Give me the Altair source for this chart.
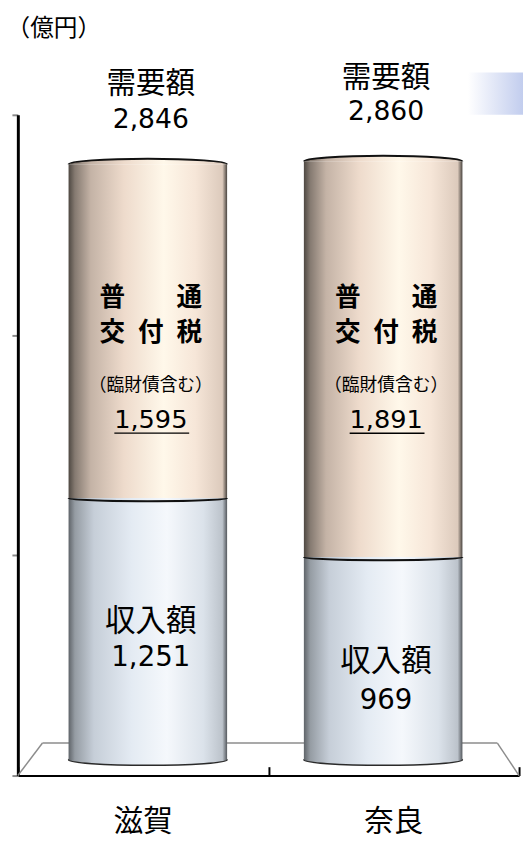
import altair as alt
import pandas as pd

# ---- data (億円) ----
categories = ["滋賀", "奈良"]
income = [1251, 969]        # 収入額
grant = [1595, 1891]        # 普通交付税（臨財債含む）
demand = [2846, 2860]       # 需要額
axis_ticks = [0, 1000, 2000, 3000]

df = pd.DataFrame({"pref": categories, "income": income, "grant": grant, "demand": demand})
one = pd.DataFrame({"k": [0]})

W, H = 509, 671
JP = "Noto Sans CJK JP"
NUM = "DejaVu Sans"
BAR_W = 161

bar_x = alt.Scale(type="band", domain=categories, paddingInner=0, paddingOuter=0.065, align=0.403)
axis_x = alt.Scale(type="band", domain=categories, paddingInner=0, paddingOuter=0)
bar_y = alt.Scale(domain=[-75.3, 3082.4], nice=False, zero=False)


def grad(stops):
    return alt.Gradient(gradient="linear", x1=0, x2=1, y1=0, y2=0,
                        stops=[alt.GradientStop(offset=o, color=c) for o, c in stops])


beige = grad([(0.0, "#4e4842"), (0.04, "#857a71"), (0.14, "#c4b3a6"), (0.35, "#eedbcc"),
              (0.60, "#fff8ea"), (0.80, "#f6e6d8"), (0.97, "#dccabc"), (1.0, "#4a4540")])
blue = grad([(0.0, "#5f6469"), (0.04, "#959ca3"), (0.16, "#c6ced8"), (0.40, "#e4ebf3"),
             (0.62, "#f5f8fc"), (0.85, "#dbe2ea"), (0.97, "#bcc3cb"), (1.0, "#55595e")])

ELLIPSE = "M-1,0A1,0.07,0,1,1,1,0A1,0.07,0,1,1,-1,0Z"
TOP_ARC = "M-1,0A1,0.07,0,0,1,1,0"
BOTTOM_ARC = "M-1,0A1,0.04,0,0,0,1,0"

XB = alt.X("pref:N", scale=bar_x, axis=None)

# ---- decorations: 3D floor & slide accent ----
floor_c = "#8c8c8c"
floor = alt.layer(
    alt.Chart(one).mark_rule(color=floor_c, strokeWidth=1.5).encode(
        x=alt.value(0), y=alt.value(H), x2=alt.value(25), y2=alt.value(H - 33)),
    alt.Chart(one).mark_rule(color=floor_c, strokeWidth=1.5).encode(
        x=alt.value(25), y=alt.value(H - 33), x2=alt.value(487), y2=alt.value(H - 33)),
    alt.Chart(one).mark_rule(color=floor_c, strokeWidth=1.5).encode(
        x=alt.value(487), y=alt.value(H - 33), x2=alt.value(W), y2=alt.value(H)),
)
accent = alt.Chart(one).mark_rect(
    color=alt.Gradient(gradient="linear", x1=0, x2=1, y1=0, y2=0,
                       stops=[alt.GradientStop(offset=0, color="#ffffff"),
                              alt.GradientStop(offset=1, color="#c2cdee")])
).encode(x=alt.value(457), x2=alt.value(513), y=alt.value(-43), y2=alt.value(0))

# ---- axes ----
axes = alt.Chart(df).mark_bar(opacity=0).encode(
    x=alt.X("pref:N", scale=axis_x, axis=alt.Axis(
        title=None, labelAngle=0, ticks=False, domainColor="black", domainWidth=2,
        labelFont=JP, labelFontSize=30, labelColor="black", labelPadding=32)),
    y=alt.Y("demand:Q", scale=alt.Scale(domain=[0, 3000], nice=False), axis=alt.Axis(
        values=axis_ticks, labels=False, grid=False, domainColor="black", domainWidth=3,
        tickColor="#8a8a8a", tickSize=6, tickWidth=2,
        title="（億円）", titleAngle=0, titleX=-12, titleY=-88, titleAlign="left",
        titleBaseline="middle", titleFont=JP, titleFontSize=24, titleFontWeight="normal",
        titleColor="black")),
)
inner_ticks = alt.Chart(df).mark_bar(opacity=0).encode(
    x=alt.X("pref:N", scale=axis_x, axis=alt.Axis(
        orient="top", offset=-H, labels=False, domain=False, ticks=True, tickBand="extent",
        tickSize=9, tickColor="black", tickWidth=2, title=None)),
)

# ---- cylinders ----
bottom_cap = alt.Chart(df).mark_point(
    shape=ELLIPSE, size=BAR_W ** 2, filled=True, fill=blue, stroke="#2a2a2a",
    strokeWidth=1.5, opacity=1
).encode(x=XB, y=alt.Y(datum=0, scale=bar_y, axis=None))

bottom_bar = alt.Chart(df).mark_bar(width=BAR_W, color=blue).encode(
    x=XB, y=alt.Y("income:Q", scale=bar_y, axis=None), y2=alt.Y2(datum=0))

top_bar = alt.Chart(df).mark_bar(width=BAR_W, color=beige).encode(
    x=XB, y=alt.Y("income:Q", scale=bar_y, axis=None), y2="demand:Q")

top_cap = alt.Chart(df).mark_point(
    shape=TOP_ARC, size=BAR_W ** 2, filled=True, fill=beige, stroke="#111111",
    strokeWidth=2, opacity=1
).encode(x=XB, y=alt.Y("demand:Q", scale=bar_y, axis=None))

boundary = alt.Chart(df).mark_point(
    shape=BOTTOM_ARC, size=BAR_W ** 2, filled=False, color="#111111",
    strokeWidth=2, opacity=1
).encode(x=XB, y=alt.Y("income:Q", scale=bar_y, axis=None))

# ---- labels ----
OFFS = {
    "滋賀": dict(dl=-81, dn=-45, fu=136, ko=171, rz=225, gn=260, ul=273, il=126, inn=163),
    "奈良": dict(dl=-85, dn=-50, fu=139, ko=174, rz=228, gn=263, ul=276, il=107, inn=146),
}


def txt(cat, yfield, dy, size, text=None, field=None, font=JP, weight="normal"):
    kw = dict(dy=dy, dx=3, fontSize=size, font=font, fontWeight=weight, color="black",
              baseline="middle", align="center")
    if text is not None:
        kw["text"] = text
    ch = alt.Chart(df).transform_filter(alt.datum.pref == cat).mark_text(**kw)
    enc = dict(x=XB, y=alt.Y(f"{yfield}:Q", scale=bar_y, axis=None))
    if field is not None:
        enc["text"] = alt.Text(f"{field}:Q", format=",")
    return ch.encode(**enc)


labels = []
for cat in categories:
    o = OFFS[cat]
    labels += [
        txt(cat, "demand", o["dl"], 30, text="需要額"),
        txt(cat, "demand", o["dn"], 27, field="demand", font=NUM),
        txt(cat, "demand", o["fu"], 26, text="普\u2002\u3000\u2002通", weight="bold"),
        txt(cat, "demand", o["ko"], 26, text="交\u2002付\u2002税", weight="bold"),
        txt(cat, "demand", o["rz"], 18, text="（臨財債含む）"),
        txt(cat, "demand", o["gn"], 26, field="grant", font=NUM),
        alt.Chart(df).transform_filter(alt.datum.pref == cat).mark_tick(
            orient="horizontal", size=76, thickness=1.5, color="black", opacity=1,
            yOffset=o["ul"], xOffset=4
        ).encode(x=XB, y=alt.Y("demand:Q", scale=bar_y, axis=None)),
        txt(cat, "income", o["il"], 31, text="収入額"),
        txt(cat, "income", o["inn"], 28, field="income", font=NUM),
    ]

chart = alt.layer(
    floor, accent, axes, inner_ticks,
    bottom_cap, bottom_bar, top_bar, top_cap, boundary,
    *labels
).resolve_scale(x="independent", y="independent").properties(
    width=W, height=H, autosize=alt.AutoSizeParams(type="none"),
    padding={"left": 10, "top": 102, "right": 4, "bottom": 62},
).configure_view(stroke=None)

chart.save("out.html", embed_options={"renderer": "svg", "actions": False})
